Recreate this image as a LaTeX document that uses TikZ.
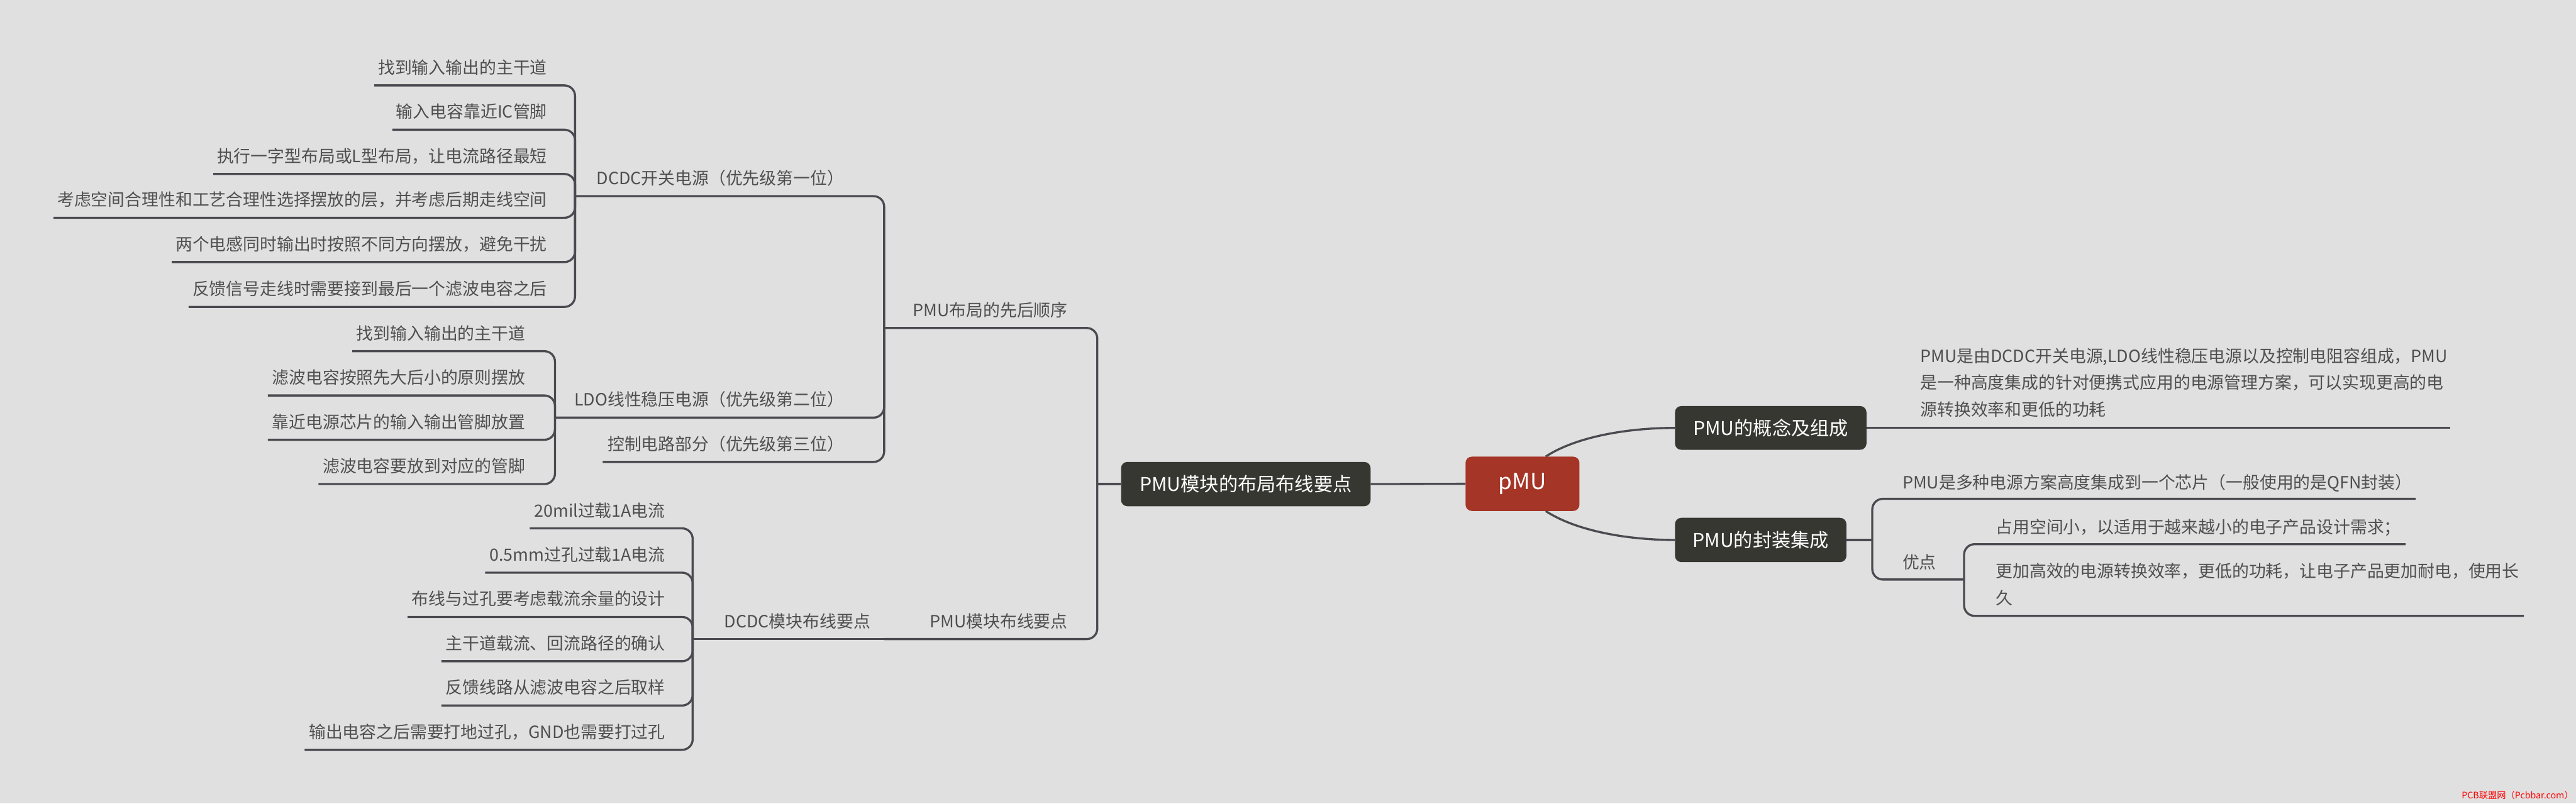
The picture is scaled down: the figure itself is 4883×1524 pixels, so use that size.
\documentclass[tikz,border=0pt]{standalone}
\usepackage{fontspec}
\setmainfont{Noto Sans CJK SC}
\usetikzlibrary{calc}
\definecolor{bgc}{HTML}{E0E0E0}
\definecolor{linec}{HTML}{4A4A50}
\definecolor{txtc}{HTML}{4F4F4F}
\definecolor{boxc}{HTML}{373732}
\definecolor{rootc}{HTML}{A53526}
\definecolor{wmc}{HTML}{FF0000}
\tikzset{
  conn/.style={draw=linec, line width=4pt, rounded corners=20pt},
  leaf/.style={inner sep=0pt, text=txtc, font=\fontsize{32}{50.5}\selectfont},
  topbox/.style={fill=boxc, rounded corners=12pt, text=white, font=\fontsize{36}{40}\selectfont, inner sep=0pt},
  rootbox/.style={fill=rootc, rounded corners=12pt, text=white, font=\fontsize{42}{46}\selectfont, inner sep=0pt, minimum width=216pt, minimum height=103pt},
  wmark/.style={inner sep=0pt, text=wmc, font=\fontsize{17}{20}\selectfont}
}
\begin{document}
\begin{tikzpicture}[x=1pt,y=-1pt]
\fill[bgc] (0,0) rectangle (4883,1524);
\useasboundingbox (0,0) rectangle (4883,1524);

% central nodes
\node[rootbox] (pmu) at (2886,917.5) {pMU};
\node[topbox, minimum width=473pt, minimum height=84pt] (main) at (2361.5,918) {PMU模块的布局布线要点};
\node[topbox, minimum width=363pt, minimum height=83pt] (concept) at (3356.5,811.5) {PMU的概念及组成};
\node[topbox, minimum width=325pt, minimum height=84pt] (pkg) at (3337.5,1024) {PMU的封装集成};

\draw[conn] (main.east) -- (pmu.west);
\draw[conn] ([xshift=44pt]pmu.north) .. controls +(55,-36) and +(-95,0) .. (concept.west);
\draw[conn] ([xshift=44pt]pmu.south) .. controls +(55,36) and +(-95,0) .. (pkg.west);

% junctions
\coordinate (mj) at (2080,918);
\coordinate (orderj) at (1676,622);
\coordinate (routej) at (1676,1212);
\coordinate (dcdcj) at (1090,372);
\coordinate (ldoj) at (1052,792);
\coordinate (modj) at (1313,1212);
\coordinate (pkgj) at (3549,1024);
\coordinate (advj) at (3723,1099);

% level 2 (left)
\node[leaf, anchor=base east] (order) at (2024,600) {PMU布局的先后顺序};
\node[leaf, anchor=base east] (route) at (2024,1190) {PMU模块布线要点};
\node[leaf, anchor=base east] (dcdc) at (1600,350) {DCDC开关电源（优先级第一位）};
\node[leaf, anchor=base east] (ldo) at (1600,770) {LDO线性稳压电源（优先级第二位）};
\node[leaf, anchor=base east] (ctrl) at (1600,854) {控制电路部分（优先级第三位）};
\coordinate (ctrlu) at ([shift={(-9,22)}]ctrl.base west);
\node[leaf, anchor=base east] (mod) at (1650,1190) {DCDC模块布线要点};

\draw[conn] (main.west) -- (mj);
\draw[conn] (mj) |- (orderj);
\draw[conn] (mj) |- (routej);
\draw[conn] (orderj) |- (dcdcj);
\draw[conn] (orderj) |- (ldoj);
\draw[conn] (orderj) |- (ctrlu);
\draw[conn] (routej) -- (modj);

% DCDC switching supply leaves
\node[leaf, anchor=base east] (a1) at (1037,140) {找到输入输出的主干道};
\node[leaf, anchor=base east] (a2) at (1037,224) {输入电容靠近IC管脚};
\node[leaf, anchor=base east] (a3) at (1037,308) {执行一字型布局或L型布局，让电流路径最短};
\node[leaf, anchor=base east] (a4) at (1037,391) {考虑空间合理性和工艺合理性选择摆放的层，并考虑后期走线空间};
\node[leaf, anchor=base east] (a5) at (1037,475) {两个电感同时输出时按照不同方向摆放，避免干扰};
\node[leaf, anchor=base east] (a6) at (1037,560) {反馈信号走线时需要接到最后一个滤波电容之后};
\foreach \n in {a1,a2,a3,a4,a5,a6} {
  \coordinate (\n u) at ([shift={(-7,22)}]\n.base west);
  \draw[conn] (dcdcj) |- (\n u);
}

% LDO leaves
\node[leaf, anchor=base east] (b1) at (996,644) {找到输入输出的主干道};
\node[leaf, anchor=base east] (b2) at (996,728) {滤波电容按照先大后小的原则摆放};
\node[leaf, anchor=base east] (b3) at (996,812) {靠近电源芯片的输入输出管脚放置};
\node[leaf, anchor=base east] (b4) at (996,896) {滤波电容要放到对应的管脚};
\foreach \n in {b1,b2,b3,b4} {
  \coordinate (\n u) at ([shift={(-8,22)}]\n.base west);
  \draw[conn] (ldoj) |- (\n u);
}

% DCDC module routing leaves
\node[leaf, anchor=base east] (c1) at (1261,980) {20mil过载1A电流};
\node[leaf, anchor=base east] (c2) at (1261,1064) {0.5mm过孔过载1A电流};
\node[leaf, anchor=base east] (c3) at (1261,1148) {布线与过孔要考虑载流余量的设计};
\node[leaf, anchor=base east] (c4) at (1261,1232) {主干道载流、回流路径的确认};
\node[leaf, anchor=base east] (c5) at (1261,1316) {反馈线路从滤波电容之后取样};
\node[leaf, anchor=base east] (c6) at (1261,1400) {输出电容之后需要打地过孔，GND也需要打过孔};
\foreach \n in {c1,c2,c3,c4,c5,c6} {
  \coordinate (\n u) at ([shift={(-8,22)}]\n.base west);
  \draw[conn] (modj) |- (\n u);
}

% right side: concept
\node[leaf, anchor=base west] (cdesc) at (3640,788) {\begin{tabular}[b]{@{}l@{}}PMU是由DCDC开关电源,LDO线性稳压电源以及控制电阻容组成，PMU\\是一种高度集成的针对便携式应用的电源管理方案，可以实现更高的电\\源转换效率和更低的功耗\end{tabular}};
\coordinate (cdescu) at (4645,811.5);
\draw[conn] (concept.east) -- (cdescu);

% right side: package
\draw[conn] (pkg.east) -- (pkgj);
\node[leaf, anchor=base west] (p1) at (3606,927) {PMU是多种电源方案高度集成到一个芯片（一般使用的是QFN封装）};
\coordinate (p1u) at (4579,946);
\draw[conn] (pkgj) |- (p1u);
\node[leaf, anchor=base west] (adv) at (3606,1078) {优点};
\draw[conn] (pkgj) |- (advj);
\node[leaf, anchor=base west] (y1) at (3783,1012) {占用空间小，以适用于越来越小的电子产品设计需求；};
\coordinate (y1u) at (4560,1032);
\draw[conn] (advj) |- (y1u);
\node[leaf, anchor=base west] (y2) at (3783,1146) {\begin{tabular}[b]{@{}l@{}}更加高效的电源转换效率，更低的功耗，让电子产品更加耐电，使用长\\久\end{tabular}};
\coordinate (y2u) at (4784,1168);
\draw[conn] (advj) |- (y2u);

% watermark
\node[wmark, anchor=base east] (wm) at (4878,1515) {PCB联盟网（Pcbbar.com）};
\end{tikzpicture}
\end{document}
